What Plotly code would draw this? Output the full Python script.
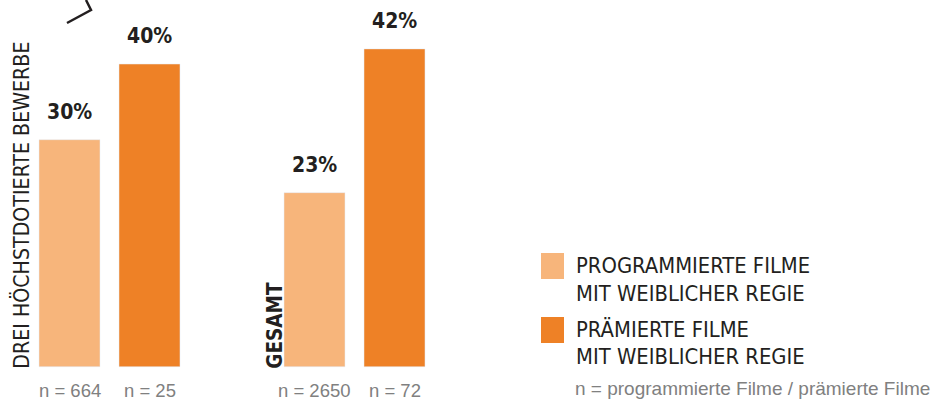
import plotly.graph_objects as go

# ---- data ----
categories = ["DREI HÖCHSTDOTIERTE BEWERBE", "GESAMT"]
programmiert = [30, 23]      # % programmierte Filme mit weiblicher Regie
praemiert = [40, 42]         # % prämierte Filme mit weiblicher Regie
n_programmiert = [664, 2650]
n_praemiert = [25, 72]
legend_labels = [["PROGRAMMIERTE FILME", "MIT WEIBLICHER REGIE"],
                 ["PRÄMIERTE FILME", "MIT WEIBLICHER REGIE"]]
footnote = "n = programmierte Filme / prämierte Filme"

# ---- style ----
W, H = 943, 401
LIGHT = "#F7B57B"
DARK = "#EE8126"
TXT = "#231F20"
GRAY = "#808080"
COND = "DejaVu Sans Condensed, Liberation Sans, sans-serif"
REG = "Liberation Sans, Arial, sans-serif"

def px(x):
    return x / W

def py(y):
    return 1 - y / H

fig = go.Figure()
fig.add_trace(go.Bar(x=categories, y=programmiert, marker_color=LIGHT,
                     name=" ".join(legend_labels[0]), hoverinfo="skip"))
fig.add_trace(go.Bar(x=categories, y=praemiert, marker_color=DARK,
                     name=" ".join(legend_labels[1]), hoverinfo="skip"))

ann = []
offsets = [-40, 40]
for i, cat in enumerate(categories):
    for j, (vals, ns) in enumerate([(programmiert, n_programmiert), (praemiert, n_praemiert)]):
        ann.append(dict(x=cat, y=vals[i], xref="x", yref="y", text=f"<b>{vals[i]}%</b>",
                        showarrow=False, xshift=offsets[j], yshift=28, yanchor="middle",
                        font=dict(family=COND, size=21, color=TXT)))
        ann.append(dict(x=cat, y=0, xref="x", yref="y", text=f"n = {ns[i]}",
                        showarrow=False, xshift=offsets[j], yshift=-24, yanchor="middle",
                        font=dict(family=REG, size=18.5, color=GRAY)))

# rotated category labels
cat_style = [dict(xshift=-88, bold=False, size=21.2), dict(xshift=-79, bold=True, size=20.5)]
for cat, st in zip(categories, cat_style):
    ann.append(dict(x=cat, y=0, xref="x", yref="y",
                    text=f"<b>{cat}</b>" if st["bold"] else cat,
                    showarrow=False, textangle=-90, xshift=st["xshift"], yshift=-3,
                    yanchor="bottom", xanchor="center", borderpad=0,
                    font=dict(family=COND, size=st["size"], color=TXT)))

# manual legend
shapes = []
sq_tops = [253, 317]
line_centers = [[265.5, 293], [329, 356.5]]
for k, color in enumerate([LIGHT, DARK]):
    shapes.append(dict(type="rect", xref="paper", yref="paper",
                       x0=px(541), x1=px(564), y0=py(sq_tops[k] + 26), y1=py(sq_tops[k]),
                       fillcolor=color, line_width=0))
    for t, yc in zip(legend_labels[k], line_centers[k]):
        ann.append(dict(x=px(574), y=py(yc), xref="paper", yref="paper", text=t,
                        showarrow=False, xanchor="left", yanchor="middle",
                        font=dict(family=COND, size=21.8, color=TXT)))
ann.append(dict(x=px(573), y=py(388), xref="paper", yref="paper", text=footnote,
                showarrow=False, xanchor="left", yanchor="middle",
                font=dict(family=REG, size=19, color=GRAY)))

# cropped chevron fragment at top-left
shapes.append(dict(type="path", xref="paper", yref="paper",
                   path=f"M {px(67)},{py(23)} L {px(91)},{py(10)} L {px(86)},{py(0)}",
                   line=dict(color=TXT, width=2.5)))

fig.update_layout(
    width=W, height=H, autosize=False,
    margin=dict(l=0, r=0, t=0, b=0),
    paper_bgcolor="white", plot_bgcolor="white",
    barmode="group", bargap=0.347, bargroupgap=0.2375,
    showlegend=False,
    xaxis=dict(visible=False, range=[-0.44694, 3.40204], type="category"),
    yaxis=dict(visible=False, range=[-4.533, 48.46]),
    annotations=ann, shapes=shapes,
)
fig.write_html(
    "out.html",
    config={"displayModeBar": False},
    post_script="document.body.style.margin='0';document.body.style.overflow='hidden';"
                "document.documentElement.style.overflow='hidden';",
)
